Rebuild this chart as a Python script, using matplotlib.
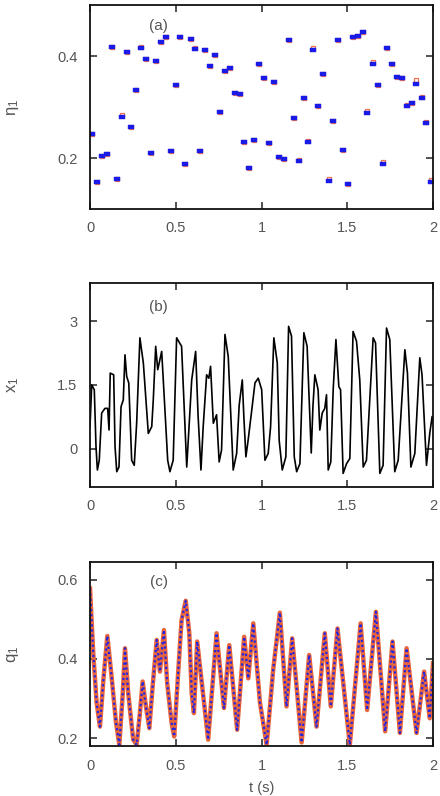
import matplotlib
matplotlib.use("Agg")
import matplotlib.pyplot as plt

plt.rcParams['font.family'] = ['Liberation Sans', 'DejaVu Sans']
plt.rcParams['mathtext.fontset'] = 'custom'
plt.rcParams['mathtext.rm'] = 'Liberation Sans'
plt.rcParams['mathtext.it'] = 'Liberation Sans:italic'

# ---------------- data ----------------
# panel (a): sampled eta_1
t_eta = [0.012, 0.039, 0.068, 0.097, 0.126, 0.155, 0.185, 0.214, 0.241, 0.270,
         0.297, 0.328, 0.354, 0.386, 0.414, 0.443, 0.470, 0.501, 0.526, 0.556,
         0.587, 0.614, 0.641, 0.672, 0.701, 0.731, 0.758, 0.787, 0.816, 0.845,
         0.874, 0.899, 0.928, 0.956, 0.985, 1.016, 1.043, 1.072, 1.101, 1.131,
         1.161, 1.189, 1.218, 1.245, 1.274, 1.301, 1.332, 1.360, 1.391, 1.418,
         1.447, 1.476, 1.503, 1.533, 1.562, 1.591, 1.618, 1.649, 1.677, 1.706,
         1.733, 1.763, 1.790, 1.820, 1.847, 1.876, 1.903, 1.935, 1.962, 1.987]
eta_ref = [0.248, 0.152, 0.203, 0.208, 0.418, 0.159, 0.280, 0.407, 0.260, 0.333,
           0.415, 0.394, 0.210, 0.390, 0.427, 0.438, 0.213, 0.343, 0.437, 0.189,
           0.433, 0.413, 0.214, 0.411, 0.381, 0.401, 0.291, 0.371, 0.376, 0.327,
           0.325, 0.231, 0.180, 0.235, 0.384, 0.356, 0.229, 0.350, 0.202, 0.199,
           0.431, 0.278, 0.195, 0.318, 0.231, 0.412, 0.302, 0.365, 0.154, 0.273,
           0.431, 0.215, 0.150, 0.437, 0.440, 0.448, 0.289, 0.385, 0.343, 0.189,
           0.415, 0.384, 0.359, 0.357, 0.302, 0.307, 0.346, 0.318, 0.268, 0.152]
eta_est = [0.248, 0.152, 0.203, 0.208, 0.418, 0.159, 0.284, 0.407, 0.260, 0.333,
           0.418, 0.394, 0.210, 0.390, 0.427, 0.438, 0.213, 0.343, 0.437, 0.189,
           0.433, 0.416, 0.214, 0.411, 0.381, 0.401, 0.291, 0.371, 0.376, 0.327,
           0.325, 0.231, 0.180, 0.235, 0.384, 0.356, 0.229, 0.350, 0.202, 0.199,
           0.431, 0.278, 0.197, 0.318, 0.233, 0.415, 0.302, 0.365, 0.158, 0.273,
           0.431, 0.215, 0.150, 0.437, 0.440, 0.448, 0.292, 0.388, 0.343, 0.192,
           0.415, 0.384, 0.359, 0.357, 0.304, 0.307, 0.353, 0.320, 0.270, 0.156]

# panel (b): x_1 signal
t_x = [0.000, 0.010, 0.025, 0.035, 0.043, 0.054, 0.068, 0.087, 0.103, 0.111,
       0.118, 0.138, 0.146, 0.156, 0.169, 0.181, 0.194, 0.204, 0.214, 0.226,
       0.243, 0.258, 0.272, 0.291, 0.311, 0.340, 0.360, 0.369, 0.383, 0.395,
       0.418, 0.437, 0.453, 0.466, 0.485, 0.505, 0.534, 0.564, 0.573, 0.593,
       0.616, 0.630, 0.647, 0.660, 0.680, 0.693, 0.703, 0.719, 0.738, 0.753,
       0.767, 0.787, 0.806, 0.835, 0.855, 0.870, 0.888, 0.897, 0.909, 0.922,
       0.942, 0.962, 0.981, 1.001, 1.020, 1.039, 1.053, 1.072, 1.092, 1.103,
       1.121, 1.142, 1.158, 1.175, 1.191, 1.205, 1.224, 1.247, 1.266, 1.290,
       1.300, 1.311, 1.330, 1.340, 1.354, 1.369, 1.379, 1.389, 1.404, 1.418,
       1.434, 1.451, 1.461, 1.476, 1.496, 1.515, 1.534, 1.554, 1.573, 1.593,
       1.612, 1.651, 1.665, 1.690, 1.709, 1.729, 1.748, 1.777, 1.797, 1.836,
       1.851, 1.871, 1.894, 1.923, 1.936, 1.962, 1.981, 1.995, 2.000]
x1 = [0.52, 1.50, 1.39, 0.05, -0.50, -0.27, 0.84, 0.95, 0.95, 0.44,
      1.78, 1.74, 0.05, -0.54, -0.43, 0.99, 1.15, 2.21, 1.70, 1.55,
      -0.27, -0.39, 0.60, 2.61, 2.02, 0.36, 0.52, 1.15, 2.41, 1.86,
      2.29, 0.91, -0.27, -0.54, -0.27, 2.61, 2.41, -0.43, 0.20, 1.62,
      2.29, 0.80, -0.50, 0.52, 1.74, 1.66, 1.94, 0.60, 0.80, -0.31,
      -0.03, 2.69, 2.17, -0.50, -0.11, 1.03, 1.62, 0.76, -0.19, 0.20,
      0.87, 1.55, 1.66, 1.39, -0.27, -0.11, 0.52, 2.61, 2.02, 0.20,
      -0.50, -0.19, 2.88, 2.65, -0.19, -0.54, -0.35, 2.73, 2.41, -0.10,
      1.00, 1.74, 1.39, 0.44, 0.84, 0.95, 1.27, -0.50, -0.31, 1.39,
      2.57, 1.46, 1.39, -0.58, -0.35, -0.23, 2.76, 2.53, 1.62, -0.43,
      -0.27, 2.61, 2.49, -0.58, -0.39, 2.84, 2.57, -0.54, -0.27, 2.33,
      1.78, -0.43, -0.11, 2.14, 1.74, -0.39, 0.36, 0.76, 0.62]

# panel (c): q_1
t_q = [0.000, 0.019, 0.039, 0.058, 0.078, 0.101, 0.126, 0.152, 0.171, 0.191,
       0.204, 0.223, 0.252, 0.272, 0.291, 0.307, 0.326, 0.346, 0.365, 0.389,
       0.408, 0.431, 0.450, 0.476, 0.491, 0.515, 0.534, 0.558, 0.579, 0.593,
       0.606, 0.625, 0.689, 0.738, 0.781, 0.812, 0.858, 0.899, 0.923, 0.952,
       0.991, 1.030, 1.068, 1.107, 1.146, 1.179, 1.234, 1.278, 1.321, 1.369,
       1.404, 1.443, 1.515, 1.578, 1.616, 1.667, 1.721, 1.764, 1.807, 1.846,
       1.904, 1.948, 1.981, 2.000]
q1 = [0.578, 0.414, 0.288, 0.229, 0.347, 0.458, 0.355, 0.238, 0.183, 0.313,
      0.427, 0.313, 0.196, 0.183, 0.263, 0.343, 0.280, 0.225, 0.330, 0.448,
      0.368, 0.473, 0.339, 0.238, 0.204, 0.372, 0.498, 0.547, 0.465, 0.313,
      0.263, 0.444, 0.196, 0.465, 0.276, 0.435, 0.221, 0.456, 0.351, 0.490,
      0.290, 0.183, 0.372, 0.517, 0.280, 0.452, 0.189, 0.410, 0.229, 0.465,
      0.280, 0.477, 0.183, 0.490, 0.271, 0.519, 0.217, 0.444, 0.213, 0.427,
      0.213, 0.368, 0.250, 0.389]

xticks = [0, 0.5, 1, 1.5, 2]
xticklabels = ['0', '0.5', '1', '1.5', '2']

# ---------------- figure ----------------
W, H = 440, 796
fig = plt.figure(figsize=(W / 100, H / 100), dpi=100)

def px_axes(x0, y0, x1, y1):
    return fig.add_axes([x0 / W, 1 - y1 / H, (x1 - x0) / W, (y1 - y0) / H])

ax_a = px_axes(90, 5, 433, 209)
ax_b = px_axes(90, 283, 433, 487)
ax_c = px_axes(90, 562, 433, 746)

grey = '#555555'
for ax in (ax_a, ax_b, ax_c):
    ax.set_xlim(0, 2)
    ax.set_xticks(xticks)
    ax.set_xticklabels(xticklabels)
    ax.tick_params(direction='in', length=5, width=1.1, top=True, right=True,
                   labelsize=10.5, labelcolor=grey, pad=9, color='#222222')
    for s in ax.spines.values():
        s.set_linewidth(1.3)
        s.set_color('#111111')

# (a)
rect = [(-1, -0.55), (1, -0.55), (1, 0.55), (-1, 0.55), (-1, -0.55)]
ax_a.plot(t_eta, eta_est, linestyle='none', marker='s', markersize=3.4,
          markerfacecolor='none', markeredgecolor='#f07050', markeredgewidth=0.9)
ax_a.plot(t_eta, eta_ref, linestyle='none', marker=rect, markersize=4.4,
          markerfacecolor='#1a1ae6', markeredgecolor='#1a1ae6', markeredgewidth=0.3)
ax_a.set_ylim(0.1, 0.5)
ax_a.set_yticks([0.2, 0.4])
ax_a.set_yticklabels(['0.2', '0.4'])
ax_a.set_ylabel(r'$\mathregular{\eta_1}$', fontsize=12, color=grey)
ax_a.yaxis.set_label_coords(-0.2, 0.5)
ax_a.text(0.2, 0.895, '(a)', transform=ax_a.transAxes, ha='center', va='center',
          fontsize=11, color=grey)

# (b)
ax_b.plot(t_x, x1, color='black', linewidth=1.2, solid_joinstyle='round')
ax_b.set_ylim(-0.9, 3.9)
ax_b.set_yticks([0, 1.5, 3])
ax_b.set_yticklabels(['0', '1.5', '3'])
ax_b.set_ylabel(r'$\mathregular{x_1}$', fontsize=12, color=grey)
ax_b.yaxis.set_label_coords(-0.2, 0.5)
ax_b.text(0.2, 0.88, '(b)', transform=ax_b.transAxes, ha='center', va='center',
          fontsize=11, color=grey)

# (c)
ax_c.plot(t_q, q1, color='#e8643c', linewidth=3.2, solid_joinstyle='round')
ax_c.plot(t_q, q1, color='#2525e0', linewidth=1.6, linestyle=(0, (1, 1.3)))
ax_c.set_ylim(0.18, 0.645)
ax_c.set_yticks([0.2, 0.4, 0.6])
ax_c.set_yticklabels(['0.2', '0.4', '0.6'])
ax_c.set_ylabel(r'$\mathregular{q_1}$', fontsize=12, color=grey)
ax_c.yaxis.set_label_coords(-0.2, 0.5)
ax_c.set_xlabel('t (s)', fontsize=10.5, color=grey, labelpad=6)
ax_c.text(0.2, 0.89, '(c)', transform=ax_c.transAxes, ha='center', va='center',
          fontsize=11, color=grey)

fig.savefig('out.png', dpi=100)
